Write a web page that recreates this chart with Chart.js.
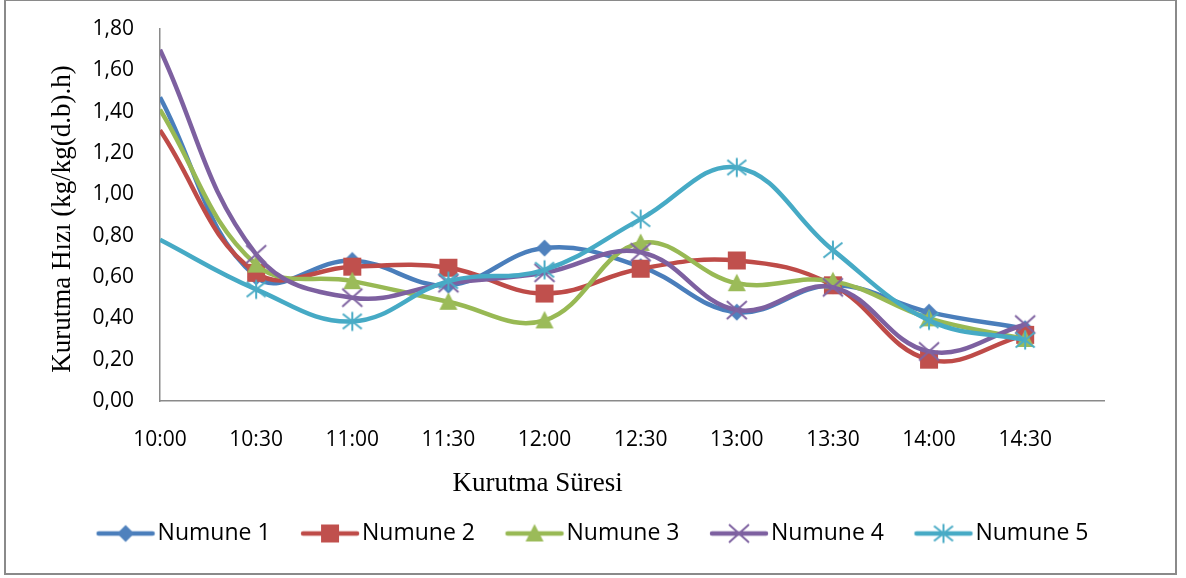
<!DOCTYPE html>
<html>
<head>
<meta charset="utf-8">
<script src="https://cdn.jsdelivr.net/npm/chart.js@4"></script>
<style>
  html, body { margin: 0; padding: 0; background: #fff; }
  canvas { display: block; }
</style>
</head>
<body>
<canvas id="c" width="1186" height="578"></canvas>
<script>
// Drying time (x categories) and drying rate per sample
const timeLabels = ['10:00', '10:30', '11:00', '11:30', '12:00', '12:30', '13:00', '13:30', '14:00', '14:30'];
const seriesNames = ['Numune 1', 'Numune 2', 'Numune 3', 'Numune 4', 'Numune 5'];
const numune1 = [1.47, 0.60, 0.68, 0.56, 0.74, 0.65, 0.43, 0.56, 0.43, 0.35];
const numune2 = [1.31, 0.62, 0.65, 0.645, 0.52, 0.64, 0.68, 0.56, 0.20, 0.32];
const numune3 = [1.41, 0.66, 0.58, 0.48, 0.39, 0.765, 0.57, 0.58, 0.40, 0.30];
const numune4 = [1.70, 0.71, 0.50, 0.57, 0.62, 0.72, 0.44, 0.55, 0.24, 0.37];
const numune5 = [0.78, 0.54, 0.385, 0.58, 0.635, 0.88, 1.13, 0.73, 0.39, 0.295];
const xTitle = 'Kurutma Süresi';
const yTitle = 'Kurutma Hızı (kg/kg(d.b).h)';

const seriesValues = [numune1, numune2, numune3, numune4, numune5];
const lineColors = ['#4A7EBB', '#BE4B48', '#98B954', '#7D60A0', '#46AAC5'];
const markerColors = ['#4F81BD', '#C0504D', '#9BBB59', '#8064A2', '#4BACC6'];
const markerKinds = ['diamond', 'square', 'triangle', 'x', 'asterisk'];

function drawMarker(ctx, kind, cx, cy, color) {
  ctx.save();
  ctx.fillStyle = color;
  ctx.strokeStyle = color;
  ctx.lineCap = 'butt';
  ctx.beginPath();
  if (kind === 'diamond') {
    ctx.moveTo(cx, cy - 8.5); ctx.lineTo(cx + 8.5, cy);
    ctx.lineTo(cx, cy + 8.5); ctx.lineTo(cx - 8.5, cy);
    ctx.closePath(); ctx.fill();
  } else if (kind === 'square') {
    ctx.rect(cx - 9, cy - 9, 18, 18); ctx.fill();
  } else if (kind === 'triangle') {
    ctx.moveTo(cx, cy - 9.5); ctx.lineTo(cx + 9, cy + 8);
    ctx.lineTo(cx - 9, cy + 8); ctx.closePath(); ctx.fill();
  } else if (kind === 'x') {
    ctx.lineWidth = 2;
    ctx.moveTo(cx - 10, cy - 9); ctx.lineTo(cx + 10, cy + 9);
    ctx.moveTo(cx + 10, cy - 9); ctx.lineTo(cx - 10, cy + 9);
    ctx.stroke();
  } else if (kind === 'asterisk') {
    ctx.lineWidth = 2;
    ctx.moveTo(cx - 9.5, cy - 7.5); ctx.lineTo(cx + 9.5, cy + 7.5);
    ctx.moveTo(cx + 9.5, cy - 7.5); ctx.lineTo(cx - 9.5, cy + 7.5);
    ctx.moveTo(cx, cy - 9.5); ctx.lineTo(cx, cy + 9.5);
    ctx.stroke();
  }
  ctx.restore();
}

function markerCanvas(kind, color) {
  const cv = document.createElement('canvas');
  cv.width = 24; cv.height = 24;
  drawMarker(cv.getContext('2d'), kind, 12, 12, color);
  return cv;
}

function legendCanvas(kind, lineColor, color) {
  const cv = document.createElement('canvas');
  cv.width = 62; cv.height = 24;
  const ctx = cv.getContext('2d');
  ctx.strokeStyle = lineColor;
  ctx.lineWidth = 4.5;
  ctx.lineCap = 'round';
  ctx.beginPath(); ctx.moveTo(4, 12); ctx.lineTo(58, 12); ctx.stroke();
  drawMarker(ctx, kind, 31, 12, color);
  return cv;
}

const markerImages = markerKinds.map((k, i) => markerCanvas(k, markerColors[i]));
const legendImages = markerKinds.map((k, i) => legendCanvas(k, lineColors[i], markerColors[i]));

const datasets = seriesValues.map((vals, i) => ({
  label: seriesNames[i],
  data: vals.map((v, j) => ({ x: j, y: v })),
  borderColor: lineColors[i],
  backgroundColor: markerColors[i],
  borderWidth: 4.5,
  tension: 0.4,
  fill: false,
  order: seriesValues.length - i,
  pointStyle: markerImages[i],
  pointRadius: (c) => (c.dataIndex === 0 ? 0 : 9),
  pointHoverRadius: (c) => (c.dataIndex === 0 ? 0 : 9)
}));

const decorPlugin = {
  id: 'decor',
  beforeDraw(chart) {
    const ctx = chart.ctx;
    ctx.save();
    ctx.fillStyle = '#fff';
    ctx.fillRect(0, 0, chart.width, chart.height);
    ctx.restore();
  },
  afterDraw(chart) {
    const ctx = chart.ctx;
    const area = chart.chartArea;
    ctx.save();
    // outer frame
    ctx.strokeStyle = '#8a8a8a';
    ctx.lineWidth = 2;
    ctx.strokeRect(5, 0, 1171, 574);
    // axis titles
    ctx.fillStyle = '#000';
    ctx.font = "27px 'Liberation Serif'";
    ctx.textAlign = 'center';
    ctx.textBaseline = 'middle';
    ctx.fillText(xTitle, area.left + (area.right - area.left) * 0.4, 484);
    ctx.translate(63, (area.top + area.bottom) / 2 + 4);
    ctx.rotate(-Math.PI / 2);
    ctx.fillText(yTitle, 0, 0);
    ctx.restore();
  }
};

Chart.defaults.font.family = "'Open Sans'";
Chart.defaults.color = '#000';

new Chart(document.getElementById('c'), {
  type: 'line',
  data: { datasets },
  options: {
    responsive: false,
    animation: false,
    layout: { autoPadding: false, padding: { left: 7.5, right: 0, top: 29, bottom: 23 } },
    plugins: {
      tooltip: { enabled: false },
      legend: {
        position: 'bottom',
        labels: {
          usePointStyle: true,
          pointStyleWidth: 41,
          padding: 39,
          font: { size: 23 },
          color: '#000',
          generateLabels: (chart) => chart.data.datasets.map((ds, i) => ({
            text: ds.label,
            datasetIndex: i,
            pointStyle: legendImages[i],
            fillStyle: markerColors[i],
            strokeStyle: lineColors[i],
            lineWidth: 0,
            hidden: false
          }))
        }
      }
    },
    scales: {
      x: {
        type: 'linear',
        min: 0,
        max: 9.82,
        afterFit: (s) => { s.height = 82; },
        grid: { display: false, drawTicks: false },
        border: { display: true, color: '#8a8a8a', width: 1.5 },
        ticks: {
          stepSize: 1,
          includeBounds: false,
          autoSkip: false,
          maxRotation: 0,
          padding: 26,
          font: { size: 21 },
          callback: (v) => (timeLabels[v] !== undefined ? timeLabels[v] : '')
        }
      },
      y: {
        min: 0,
        max: 1.8,
        afterFit: (s) => { s.width = 152.5; },
        grid: { display: false, drawTicks: true, tickLength: 20 },
        border: { display: true, color: '#8a8a8a', width: 1.5 },
        ticks: {
          stepSize: 0.2,
          padding: 6,
          font: { size: 21 },
          callback: (v) => v.toFixed(2).replace('.', ',')
        }
      },
      // empty right-hand gutter between plot and frame
      gutter: {
        type: 'linear',
        position: 'right',
        afterFit: (s) => { s.width = 82; },
        grid: { display: false, drawTicks: false },
        border: { display: false },
        ticks: { display: false }
      }
    }
  },
  plugins: [decorPlugin]
});
</script>
</body>
</html>
